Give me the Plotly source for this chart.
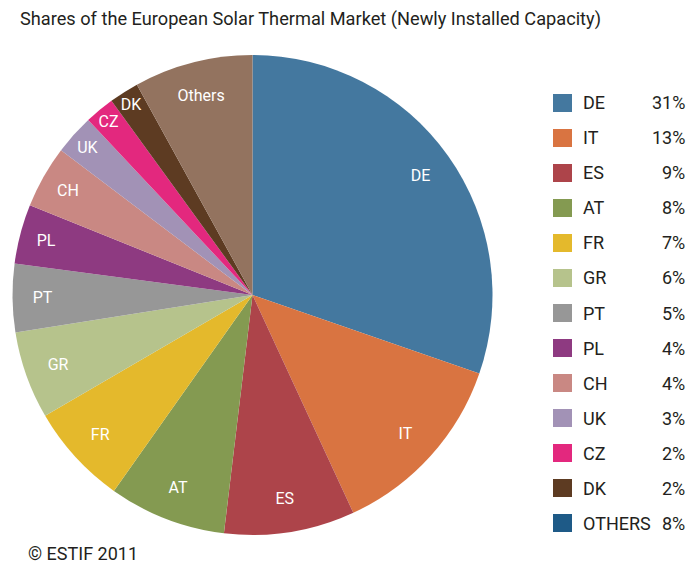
import plotly.graph_objects as go

# ---- data ----
countries = ["DE", "IT", "ES", "AT", "FR", "GR", "PT", "PL", "CH", "UK", "CZ", "DK", "Others"]
shares = [30.3, 12.8, 8.8, 7.9, 6.8, 5.9, 4.6, 4.0, 4.2, 2.7, 2.0, 2.0, 8.0]
slice_colors = ["#44789f", "#d97441", "#ad444a", "#849a51", "#e4b92c", "#b6c38c",
                "#979797", "#8e3a81", "#c98883", "#a292b6", "#e3287e", "#5d3b22", "#93735f"]

legend_labels = ["DE", "IT", "ES", "AT", "FR", "GR", "PT", "PL", "CH", "UK", "CZ", "DK", "OTHERS"]
legend_pcts = ["31%", "13%", "9%", "8%", "7%", "6%", "5%", "4%", "4%", "3%", "2%", "2%", "8%"]
legend_colors = slice_colors[:-1] + ["#1e5a87"]

FONT = "Roboto, Liberation Sans, sans-serif"
TXT = "#231f20"
W, H = 688, 566
pie_domain = dict(x=[12 / W, 493 / W], y=[1 - 535 / H, 1 - 55 / H])

fig = go.Figure()
# filled slices
fig.add_trace(go.Pie(
    labels=countries, values=shares, sort=False, direction="clockwise", rotation=0,
    marker=dict(colors=slice_colors, line=dict(width=0)),
    textinfo="none", showlegend=False, domain=pie_domain,
    hoverinfo="label+percent",
))
# transparent ring carrying the slice labels near the rim
fig.add_trace(go.Pie(
    labels=countries, values=shares, sort=False, direction="clockwise", rotation=0,
    hole=0.72,
    marker=dict(colors=["rgba(0,0,0,0)"] * len(countries), line=dict(width=0)),
    textinfo="label", textposition="inside", insidetextorientation="horizontal",
    textfont=dict(family=FONT, size=16, color="white"),
    showlegend=False, domain=pie_domain, hoverinfo="skip",
))

shapes = []
annotations = []
y0 = 103
step = 35
for i, (lab, pct, col) in enumerate(zip(legend_labels, legend_pcts, legend_colors)):
    yc = y0 + i * step
    shapes.append(dict(type="rect", xref="paper", yref="paper",
                       x0=553 / W, x1=572 / W, y0=1 - (yc + 9) / H, y1=1 - (yc - 9) / H,
                       fillcolor=col, line=dict(width=0)))
    annotations.append(dict(xref="paper", yref="paper", x=581 / W, y=1 - yc / H,
                            text=lab, showarrow=False, xanchor="left", yanchor="middle",
                            font=dict(family=FONT, size=18, color=TXT)))
    annotations.append(dict(xref="paper", yref="paper", x=687 / W, y=1 - yc / H,
                            text=pct, showarrow=False, xanchor="right", yanchor="middle",
                            font=dict(family=FONT, size=18, color=TXT)))

annotations.append(dict(xref="paper", yref="paper", x=18 / W, y=1 - 19 / H,
                        text="Shares of the European Solar Thermal Market (Newly Installed Capacity)",
                        showarrow=False, xanchor="left", yanchor="middle",
                        font=dict(family=FONT, size=18.2, color=TXT)))
annotations.append(dict(xref="paper", yref="paper", x=26 / W, y=1 - 553 / H,
                        text="© ESTIF 2011", showarrow=False, xanchor="left", yanchor="middle",
                        font=dict(family=FONT, size=18, color=TXT)))

fig.update_layout(
    width=W, height=H,
    margin=dict(l=0, r=0, t=0, b=0),
    paper_bgcolor="white",
    plot_bgcolor="white",
    shapes=shapes,
    annotations=annotations,
    uniformtext=dict(minsize=16, mode="show"),
)

fig.write_html("out.html", config={"displayModeBar": False},
               post_script="document.body.style.margin='0';document.body.style.padding='0';")
